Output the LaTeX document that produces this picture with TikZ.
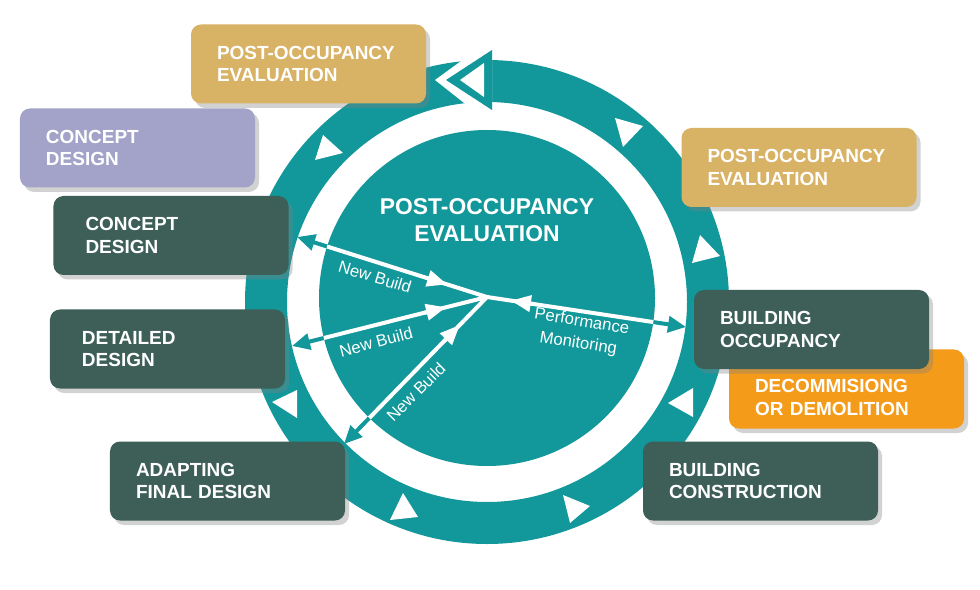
\documentclass[tikz,border=0pt]{standalone}
\usepackage{fontspec}
\setmainfont{Liberation Sans}
\usepackage{tikz}
\usetikzlibrary{arrows.meta,calc,shadows}

\definecolor{ringteal}{HTML}{12979A}
\definecolor{slatebox}{HTML}{3D5F58}
\definecolor{goldbox}{HTML}{D8B265}
\definecolor{lilacbox}{HTML}{A3A2C8}
\definecolor{orangebox}{HTML}{F49B1A}

\begin{document}
\begin{tikzpicture}[x=0.2mm,y=-0.2mm,
  stage node/.style={rectangle,rounded corners=2mm,fill=#1,text=white,
    font=\fontsize{10.8}{13}\selectfont\bfseries,align=left,
    text width=36.6mm,inner xsep=5.2mm,minimum height=15.8mm,
    drop shadow={shadow xshift=0.8mm,shadow yshift=-0.9mm,opacity=0.35}},
  wide inset/.style={inner xsep=6.4mm,text width=34.2mm},
  spoke/.style={draw=ringteal,line width=0.8mm,-{Triangle[length=3.6mm,width=3.2mm]}},
  mid tip/.style={draw=white,line width=0.8mm,-{Triangle[length=4mm,width=3.2mm]}},
  spoke label/.style={text=white,font=\fontsize{9.5}{12.5}\selectfont,align=center}]

  \useasboundingbox (0,0) rectangle (980,590);
  \fill[white] (0,0) rectangle (980,590);

  % outer ring with the arrow at the top
  \fill[ringteal,even odd rule] (487,302) circle (242) (487,302) circle (200);
  \fill[white] (479,48) -- (435,80) -- (473,110) -- (492,110) -- (492,48) -- cycle;
  \fill[ringteal] (492,50) -- (492,110) -- (446,80) -- cycle;
  \fill[white] (484,63) -- (484,97) -- (460,80) -- cycle;

  % small marks on the ring
  \fill[white] (615,118) -- (643,126) -- (623,147) -- cycle;
  \fill[white] (700,235) -- (720,256) -- (692,263) -- cycle;
  \fill[white] (668,403) -- (693,388) -- (693,417) -- cycle;
  \fill[white] (563,495) -- (590,506) -- (570,523) -- cycle;
  \fill[white] (403,493) -- (418,517) -- (390,520) -- cycle;
  \fill[white] (272,402) -- (297,390) -- (297,418) -- cycle;
  \fill[white] (323,135) -- (343,153) -- (315,160) -- cycle;

  % inner disk
  \fill[ringteal] (487,298) circle (168);

  \node[text=white,font=\fontsize{13}{15}\selectfont\bfseries,align=center] (title) at (487,220) {POST-OCCUPANCY\\EVALUATION};

  \coordinate (hub) at (487,297);
  \coordinate (nb1) at (297,237);
  \coordinate (nb2) at (292,346);
  \coordinate (nb3) at (344,444);
  \coordinate (pm) at (686,327);

  \draw[spoke] (hub) -- (nb1);
  \draw[spoke] (hub) -- (nb2);
  \draw[spoke] (hub) -- (nb3);
  \draw[spoke] (hub) -- (pm);
  \begin{scope}
    \clip (487,298) circle (168);
    \draw[white,line width=0.8mm] (hub) -- (nb1) (hub) -- (nb2) (hub) -- (nb3) (hub) -- (pm);
  \end{scope}
  \draw[mid tip] ($(hub)!0.32!(nb1)$) -- ($(hub)!0.21!(nb1)$);
  \draw[mid tip] ($(hub)!0.32!(nb2)$) -- ($(hub)!0.21!(nb2)$);
  \draw[mid tip] ($(hub)!0.30!(nb3)$) -- ($(hub)!0.19!(nb3)$);
  \draw[mid tip] ($(hub)!0.23!(pm)$) -- ($(hub)!0.12!(pm)$);

  \node[spoke label,rotate=-17] (l1) at (375,277) {New Build};
  \node[spoke label,rotate=15] (l2) at (376,342) {New Build};
  \node[spoke label,rotate=45] (l3) at (416,392) {New Build};
  \node[spoke label,rotate=-9] (l4) at (580,333) {Performance\\Monitoring};

  % stage boxes
  \node[stage node=goldbox] (1) at (308.5,64) {POST-OCCUPANCY\\EVALUATION};
  \node[stage node=lilacbox] (2) at (137.5,148) {CONCEPT\\DESIGN};
  \node[stage node=slatebox,wide inset] (3) at (171,235.5) {CONCEPT\\DESIGN};
  \node[stage node=slatebox,wide inset] (4) at (167.5,349) {DETAILED\\DESIGN};
  \node[stage node=slatebox] (5) at (227.5,481) {ADAPTING\\FINAL DESIGN};
  \node[stage node=goldbox] (6) at (799,167.5) {POST-OCCUPANCY\\EVALUATION};
  \node[stage node=orangebox,text height=17pt] (8) at (846.5,389) {DECOMMISIONG\\OR DEMOLITION};
  \node[stage node=slatebox] (7) at (811.5,329.5) {BUILDING\\OCCUPANCY};
  \node[stage node=slatebox] (9) at (760.5,481) {BUILDING\\CONSTRUCTION};

\end{tikzpicture}
\end{document}
